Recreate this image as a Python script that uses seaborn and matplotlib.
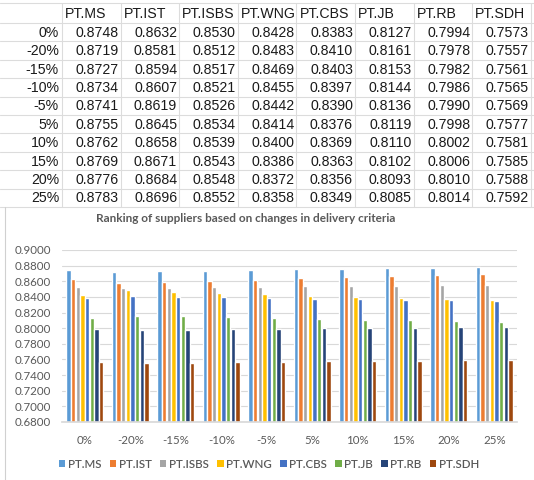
import numpy as np
import pandas as pd
import matplotlib
matplotlib.use("Agg")
import matplotlib.pyplot as plt
from matplotlib.ticker import FormatStrFormatter
from matplotlib.lines import Line2D
from matplotlib.patches import Patch
import seaborn as sns

categories = ['0%', '-20%', '-15%', '-10%', '-5%', '5%', '10%', '15%', '20%', '25%']
suppliers = ['PT.MS', 'PT.IST', 'PT.ISBS', 'PT.WNG', 'PT.CBS', 'PT.JB', 'PT.RB', 'PT.SDH']

pt_ms   = [0.8748, 0.8719, 0.8727, 0.8734, 0.8741, 0.8755, 0.8762, 0.8769, 0.8776, 0.8783]
pt_ist  = [0.8632, 0.8581, 0.8594, 0.8607, 0.8619, 0.8645, 0.8658, 0.8671, 0.8684, 0.8696]
pt_isbs = [0.8530, 0.8512, 0.8517, 0.8521, 0.8526, 0.8534, 0.8539, 0.8543, 0.8548, 0.8552]
pt_wng  = [0.8428, 0.8483, 0.8469, 0.8455, 0.8442, 0.8414, 0.8400, 0.8386, 0.8372, 0.8358]
pt_cbs  = [0.8383, 0.8410, 0.8403, 0.8397, 0.8390, 0.8376, 0.8369, 0.8363, 0.8356, 0.8349]
pt_jb   = [0.8127, 0.8161, 0.8153, 0.8144, 0.8136, 0.8119, 0.8110, 0.8102, 0.8093, 0.8085]
pt_rb   = [0.7994, 0.7978, 0.7982, 0.7986, 0.7990, 0.7998, 0.8002, 0.8006, 0.8010, 0.8014]
pt_sdh  = [0.7573, 0.7557, 0.7561, 0.7565, 0.7569, 0.7577, 0.7581, 0.7585, 0.7588, 0.7592]

yticks = [0.68, 0.70, 0.72, 0.74, 0.76, 0.78, 0.80, 0.82, 0.84, 0.86, 0.88, 0.90]
title = 'Ranking of suppliers based on changes in delivery criteria'

series = [pt_ms, pt_ist, pt_isbs, pt_wng, pt_cbs, pt_jb, pt_rb, pt_sdh]
colors = ['#5B9BD5', '#ED7D31', '#A5A5A5', '#FFC000', '#4472C4', '#70AD47', '#264478', '#9E480E']

rows = []
for s, vals in zip(suppliers, series):
    for c, v in zip(categories, vals):
        rows.append({'cat': c, 'supplier': s, 'value': v})
df = pd.DataFrame(rows)

sns.set_theme(style="white")
plt.rcParams['font.family'] = ['Liberation Sans', 'DejaVu Sans']

W, H = 534, 480
fig = plt.figure(figsize=(W / 100, H / 100), dpi=100)

def fx(x):
    return x / W

def fy(y):
    return 1 - y / H

# ---- spreadsheet table on top ----
grid_col = '#dcdcdc'
col_edges = [62 + 58.6 * k for k in range(9)]
row_top = 3
header_bottom = 23
row_h = 18.4
h_lines = [row_top, header_bottom] + [header_bottom + row_h * (i + 1) for i in range(10)]
for y in h_lines:
    fig.add_artist(Line2D([0, 1], [fy(y), fy(y)], color=grid_col, lw=0.8, transform=fig.transFigure))
for x in col_edges:
    fig.add_artist(Line2D([fx(x), fx(x)], [fy(row_top), fy(h_lines[-1])], color=grid_col, lw=0.8,
                          transform=fig.transFigure))

tfs = 10.2
tcol = '#1a1a1a'
for j, s in enumerate(suppliers):
    fig.text(fx(col_edges[j] + 3), fy((row_top + header_bottom) / 2 + 1), s, ha='left', va='center',
             fontsize=tfs, color=tcol)
for i, c in enumerate(categories):
    yc = header_bottom + row_h * (i + 0.5) + 0.5
    fig.text(fx(col_edges[0] - 3), fy(yc), c, ha='right', va='center', fontsize=tfs, color=tcol)
    for j, vals in enumerate(series):
        fig.text(fx(col_edges[j + 1] - 2), fy(yc), f'{vals[i]:.4f}', ha='right', va='center',
                 fontsize=tfs, color=tcol)

# chart border on the left
fig.add_artist(Line2D([fx(5), fx(5)], [fy(207), 0], color='#d0d0d0', lw=0.8, transform=fig.transFigure))

# ---- bar chart ----
ax = fig.add_axes([fx(62), fy(422), fx(517) - fx(62), fy(250) - fy(422)])
sns.barplot(data=df, x='cat', y='value', hue='supplier', order=categories, hue_order=suppliers,
            palette=colors, width=0.82, gap=0.04, saturation=1, ax=ax, legend=False)
ax.set_ylim(0.68, 0.90)
ax.set_yticks(yticks)
ax.yaxis.set_major_formatter(FormatStrFormatter('%.4f'))
ax.set_xlabel('')
ax.set_ylabel('')
ax.grid(axis='y', color='#d9d9d9', lw=0.8)
ax.set_axisbelow(True)
for sp in ['top', 'right', 'left']:
    ax.spines[sp].set_visible(False)
ax.spines['bottom'].set_color('#d9d9d9')
ax.tick_params(axis='both', length=0, labelsize=8.3, colors='#595959')
ax.tick_params(axis='x', pad=9)
ax.tick_params(axis='y', pad=8)
for lab in ax.get_xticklabels() + ax.get_yticklabels():
    lab.set_family(['Lato', 'DejaVu Sans'])

fig.text(fx(246), fy(218), title, ha='center', va='center', fontsize=8.5, color='#595959',
         fontweight='bold', family=['Lato', 'DejaVu Sans'])

handles = [Patch(facecolor=c, edgecolor='none') for c in colors]
leg = fig.legend(handles, suppliers, loc='center', bbox_to_anchor=(fx(269), fy(464)), ncol=8,
                 frameon=False, handlelength=0.55, handleheight=0.55, handletextpad=0.2,
                 columnspacing=0.75, prop={'family': ['Lato', 'DejaVu Sans'], 'size': 8.3,
                                           'weight': 'semibold'})
for t in leg.get_texts():
    t.set_color('#595959')

fig.savefig('out.png', dpi=100)
